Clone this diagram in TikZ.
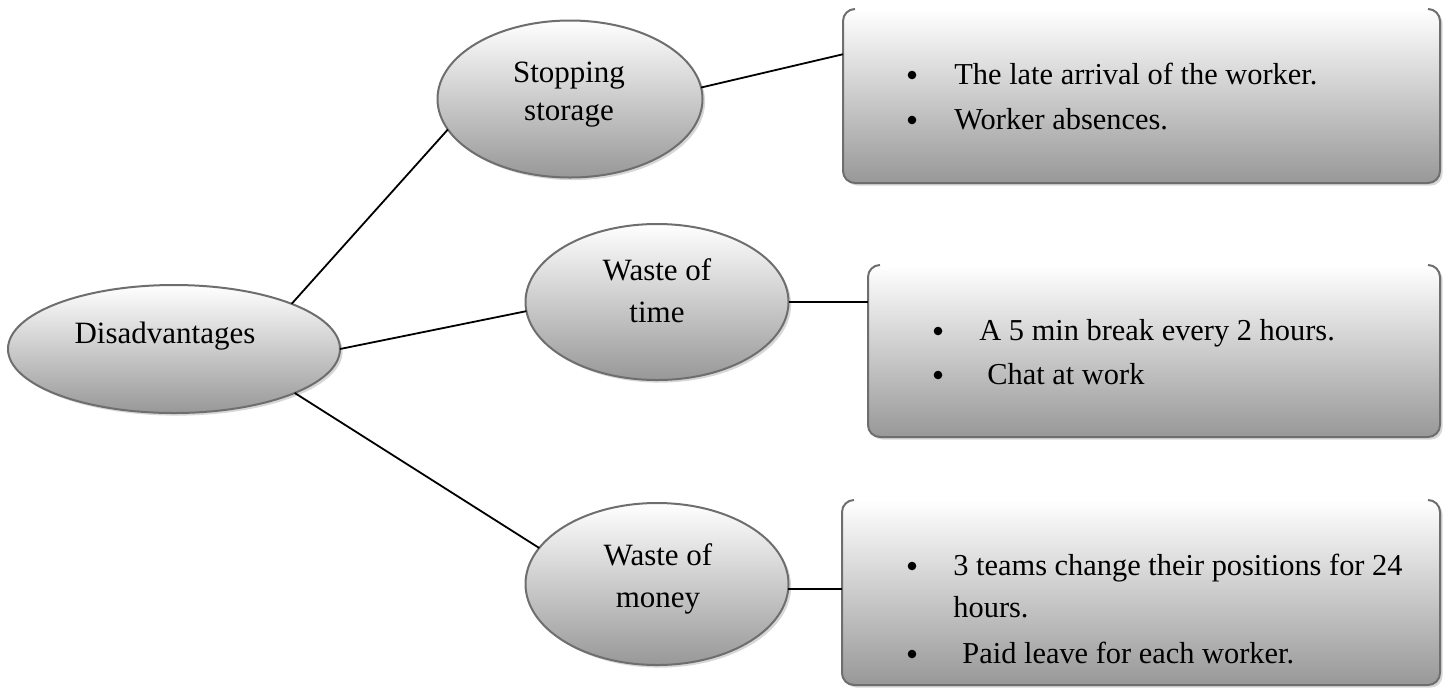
\documentclass[tikz,border=0pt]{standalone}
\usepackage{fontspec}
\setmainfont{Liberation Serif}
\usetikzlibrary{shapes.geometric,shadows,calc}
\definecolor{ellborder}{HTML}{6E6E6E}
\definecolor{shadebot}{HTML}{989898}
\tikzset{
  softshadow/.style={drop shadow={shadow xshift=1.3pt, shadow yshift=-1.3pt, fill=black!35, opacity=0.45}},
  ell/.style={ellipse, draw=ellborder, line width=1pt, top color=white, bottom color=shadebot, inner sep=0pt, outer sep=0pt, softshadow},
  boxfill/.style={rectangle, rounded corners=6pt, top color=white, bottom color=shadebot, inner sep=0pt, outer sep=0pt, softshadow},
  boxline/.style={draw=ellborder, line width=1pt, rounded corners=6pt},
  conn/.style={draw=black, line width=0.9pt},
  txt/.style={font=\fontsize{15.5}{18}\selectfont, anchor=base, inner sep=0pt},
  ltxt/.style={txt, font=\fontsize{15.2}{18}\selectfont, anchor=base west},
  bul/.style={circle, fill=black, inner sep=0pt, minimum size=4.3pt},
}
\begin{document}
\begin{tikzpicture}[x=0.5pt, y=-0.5pt]
\useasboundingbox (0,0) rectangle (1454,687);
% ellipses
\node[ell, minimum width=166pt, minimum height=64pt] (dis) at (174,349) {};
\node[ell, minimum width=132.5pt, minimum height=78.5pt] (stop) at (570,99) {};
\node[ell, minimum width=131.5pt, minimum height=78pt] (time) at (657,302) {};
\node[ell, minimum width=131.5pt, minimum height=81pt] (money) at (657,584) {};
% boxes
\node[boxfill, minimum width=298.5pt, minimum height=87pt] (box1) at (1141.5,96) {};
\node[boxfill, minimum width=286pt, minimum height=86pt] (box2) at (1154,351) {};
\node[boxfill, minimum width=299pt, minimum height=92.5pt] (box3) at (1141,592.5) {};
\foreach \b in {box1,box2,box3}{
  \draw[boxline] ([xshift=6pt]\b.north west) -- (\b.north west) -- (\b.south west) -- (\b.south east) -- (\b.north east) -- ([xshift=-6pt]\b.north east);
}
% ellipse texts
\node[txt] (t-dis) at (165,343) {Disadvantages};
\node[txt] (t-stop1) at (569,82) {Stopping};
\node[txt] (t-stop2) at (569,120) {storage};
\node[txt] (t-time1) at (657,280) {Waste of};
\node[txt] (t-time2) at (657,322) {time};
\node[txt] (t-money1) at (658,565) {Waste of};
\node[txt] (t-money2) at (658,607) {money};
% box texts
\node[bul] (b1a) at (912,75) {};
\node[bul] (b1b) at (912,120) {};
\node[ltxt] (l1a) at (954,84) {The late arrival of the worker.};
\node[ltxt] (l1b) at (954,129) {Worker absences.};
\node[bul] (b2a) at (938,331) {};
\node[bul] (b2b) at (938,375) {};
\node[ltxt] (l2a) at (979,340) {A 5 min break every 2 hours.};
\node[ltxt] (l2b) at (987,384) {Chat at work};
\node[bul] (b3a) at (912,566) {};
\node[bul] (b3b) at (912,654) {};
\node[ltxt] (l3a) at (953,575) {3 teams change their positions for 24};
\node[ltxt] (l3b) at (953,617) {hours.};
\node[ltxt] (l3c) at (962,663) {Paid leave for each worker.};
% connectors
\draw[conn] (dis.21) -- (stop.194);
\draw[conn] (dis.east) -- (time.184);
\draw[conn] (dis.-20) -- (money.163);
\draw[conn] (stop.5) -- ($(box1.north west)!0.26!(box1.south west)$);
\draw[conn] (time.east) -- (time.east -| box2.west);
\draw[conn] (money.-2) -- (money.-2 -| box3.west);
\end{tikzpicture}
\end{document}
